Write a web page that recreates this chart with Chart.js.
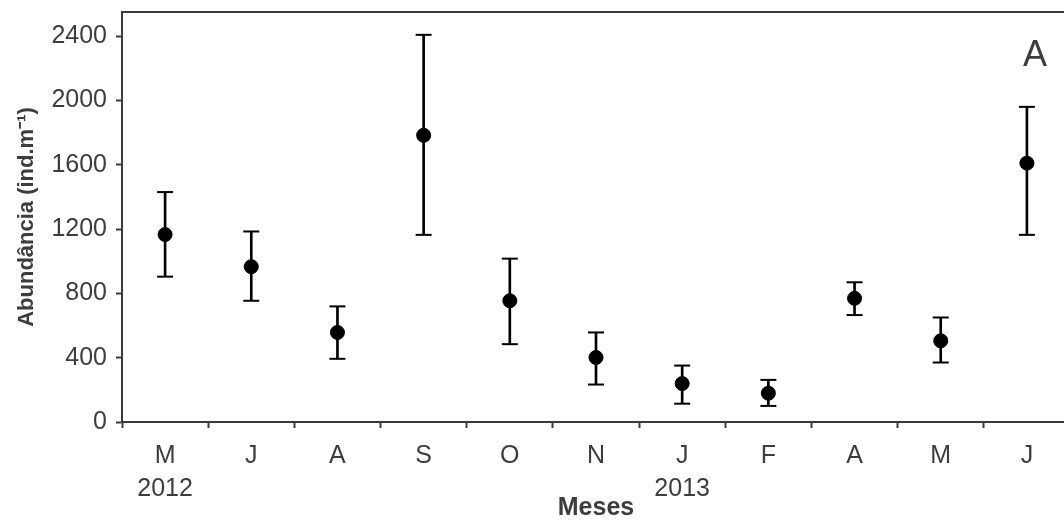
<!DOCTYPE html>
<html>
<head>
<meta charset="utf-8">
<script src="https://cdn.jsdelivr.net/npm/chart.js@4"></script>
<style>
    html, body { margin: 0; padding: 0; background: #fff; overflow: hidden; }
    #wrap { width: 1080px; height: 523px; }
</style>
</head>
<body>
<div id="wrap"><canvas id="abund-chart" width="1080" height="523"></canvas></div>
<script>
// months and year markers along the x axis
const months = ['M', 'J', 'A', 'S', 'O', 'N', 'J', 'F', 'A', 'M', 'J'];
const years = ['2012', '', '', '', '', '', '2013', '', '', '', ''];

// mean abundance (ind.m-1) and error bar limits
const meanAbund = [1166, 966, 557, 1783, 754, 401, 239, 179, 769, 505, 1610];
const upperErr = [1430, 1185, 719, 2408, 1016, 557, 351, 262, 869, 650, 1960];
const lowerErr = [904, 754, 393, 1164, 484, 233, 114, 100, 665, 370, 1164];

// y axis ticks
const yTicks = [0, 400, 800, 1200, 1600, 2000, 2400];
const yMax = 2550;
const panelLetter = 'A';

const axisColor = '#3a3a3a';
const textColor = '#3d3d3d';
const fontFamily = '"Liberation Sans", Arial, sans-serif';

const labels = months.map((m, i) => years[i] ? [m, years[i]] : m);

// top border + panel letter
const framePlugin = {
    id: 'frame',
    afterDraw(chart) {
        const { ctx, chartArea } = chart;
        ctx.save();
        ctx.strokeStyle = axisColor;
        ctx.lineWidth = 2;
        ctx.beginPath();
        ctx.moveTo(chartArea.left, chartArea.top);
        ctx.lineTo(chartArea.right, chartArea.top);
        ctx.lineTo(chartArea.right, chartArea.bottom);
        ctx.stroke();

        ctx.fillStyle = textColor;
        ctx.font = '36px ' + fontFamily;
        ctx.textAlign = 'center';
        ctx.textBaseline = 'middle';
        ctx.fillText(panelLetter, 1035, 56);
        ctx.restore();
    }
};

const ctx = document.getElementById('abund-chart').getContext('2d');
new Chart(ctx, {
    data: {
        labels: labels,
        datasets: [
            {
                type: 'bar',
                data: lowerErr.map((lo, i) => [lo, upperErr[i]]),
                backgroundColor: '#000',
                barThickness: 2,
                order: 3
            },
            {
                type: 'line',
                data: upperErr,
                showLine: false,
                pointStyle: 'line',
                pointRadius: 8,
                borderColor: '#000',
                borderWidth: 2,
                order: 2
            },
            {
                type: 'line',
                data: lowerErr,
                showLine: false,
                pointStyle: 'line',
                pointRadius: 8,
                borderColor: '#000',
                borderWidth: 2,
                order: 2
            },
            {
                type: 'line',
                data: meanAbund,
                showLine: false,
                pointStyle: 'circle',
                pointRadius: 7,
                backgroundColor: '#000',
                borderColor: '#000',
                borderWidth: 1,
                order: 1
            }
        ]
    },
    options: {
        responsive: false,
        animation: false,
        devicePixelRatio: 1,
        layout: { padding: { top: 12, right: 5, left: 0, bottom: 0 } },
        plugins: {
            legend: { display: false },
            tooltip: { enabled: false }
        },
        scales: {
            x: {
                type: 'category',
                offset: true,
                afterFit: (s) => { s.height = 101; s.paddingLeft = 0; s.paddingRight = 0; },
                grid: {
                    offset: true,
                    drawOnChartArea: false,
                    tickLength: 6,
                    tickWidth: 2,
                    color: axisColor
                },
                border: { color: axisColor, width: 2 },
                ticks: {
                    color: textColor,
                    padding: 12,
                    maxRotation: 0,
                    autoSkip: false,
                    font: { family: fontFamily, size: 25, lineHeight: 1.3 }
                },
                title: {
                    display: true,
                    text: 'Meses',
                    color: textColor,
                    padding: { top: 0, bottom: 0 },
                    font: { family: fontFamily, size: 25, weight: 'bold', lineHeight: 1.2 }
                }
            },
            y: {
                min: 0,
                max: yMax,
                afterFit: (s) => { s.width = 122; s.paddingTop = 0; s.paddingBottom = 0; },
                afterBuildTicks: (s) => { s.ticks = yTicks.map(v => ({ value: v })); },
                grid: {
                    drawOnChartArea: false,
                    tickLength: 6,
                    tickWidth: 2,
                    color: axisColor
                },
                border: { color: axisColor, width: 2 },
                ticks: {
                    color: textColor,
                    padding: 9,
                    callback: (v) => String(v),
                    font: { family: fontFamily, size: 25 }
                },
                title: {
                    display: true,
                    text: 'Abundância (ind.m⁻¹)',
                    color: textColor,
                    padding: { top: 14, bottom: 0 },
                    font: { family: fontFamily, size: 22, weight: 'bold', lineHeight: 1.2 }
                }
            }
        }
    },
    plugins: [framePlugin]
});
</script>
</body>
</html>
